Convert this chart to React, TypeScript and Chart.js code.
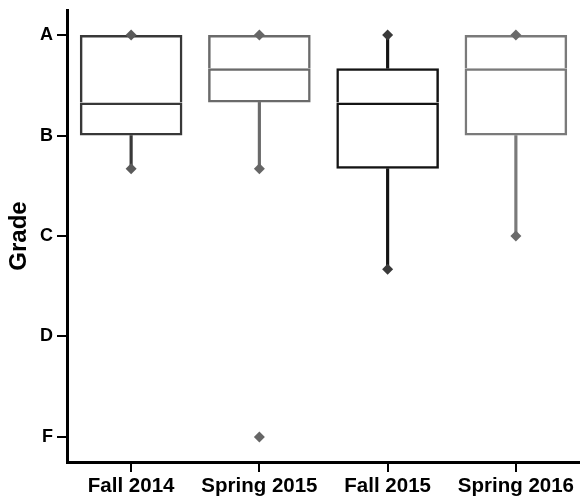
import React, { useEffect, useRef } from "react";
import { Chart, registerables } from "chart.js";

Chart.register(...registerables);

const categories = ["Fall 2014", "Spring 2015", "Fall 2015", "Spring 2016"];
const gradeLabels: Record<number, string> = { 0: "F", 1: "D", 2: "C", 3: "B", 4: "A" };
const gradeTicks = [0, 1, 2, 3, 4];

const whiskerLow = [2.67, 2.67, 1.67, 2.0];
const q1 = [3.0, 3.33, 2.67, 3.0];
const median = [3.33, 3.67, 3.33, 3.67];
const q3 = [4.0, 4.0, 3.67, 4.0];
const whiskerHigh = [4.0, 4.0, 4.0, 4.0];

// marker points: [category index, value]
const markerCats = [0, 0, 1, 1, 1, 2, 2, 3, 3];
const markerVals = [4.0, 2.67, 4.0, 2.67, 0.0, 4.0, 1.67, 4.0, 2.0];

const boxColors = ["#383838", "#6a6a6a", "#141414", "#7a7a7a"];
const markerColors = ["#5a5a5a", "#5a5a5a", "#666666", "#666666", "#666666", "#3a3a3a", "#3a3a3a", "#6a6a6a", "#6a6a6a"];

const FONT = "'Liberation Sans', Arial, Helvetica, sans-serif";

export default function App() {
  const ref = useRef<HTMLCanvasElement | null>(null);

  useEffect(() => {
    if (!ref.current) return;
    const chart = new Chart(ref.current, {
      type: "bar",
      data: {
        labels: categories,
        datasets: [
          {
            type: "bar",
            order: 3,
            data: categories.map((_, i) => [whiskerLow[i], q1[i]]),
            backgroundColor: boxColors,
            borderWidth: 0,
            barThickness: 2.5,
            grouped: false,
          } as any,
          {
            type: "bar",
            order: 3,
            data: categories.map((_, i) => [q3[i], whiskerHigh[i]]),
            backgroundColor: boxColors,
            borderWidth: 0,
            barThickness: 2.5,
            grouped: false,
          } as any,
          {
            type: "bar",
            order: 2,
            data: categories.map((_, i) => [q1[i], median[i]]),
            backgroundColor: "rgba(0,0,0,0)",
            borderColor: boxColors,
            borderWidth: 2.5,
            borderSkipped: false,
            barPercentage: 0.8,
            categoryPercentage: 1,
            grouped: false,
          } as any,
          {
            type: "bar",
            order: 2,
            data: categories.map((_, i) => [median[i], q3[i]]),
            backgroundColor: "rgba(0,0,0,0)",
            borderColor: boxColors,
            borderWidth: 2.5,
            borderSkipped: "bottom",
            barPercentage: 0.8,
            categoryPercentage: 1,
            grouped: false,
          } as any,
          {
            type: "line",
            order: 1,
            data: markerCats.map((c, i) => ({ x: categories[c], y: markerVals[i] })),
            showLine: false,
            pointStyle: "rectRot",
            pointRadius: 5.5,
            pointBorderWidth: 0,
            pointBackgroundColor: markerColors,
            pointBorderColor: markerColors,
            clip: false,
          } as any,
        ],
      },
      options: {
        animation: false,
        responsive: true,
        maintainAspectRatio: false,
        layout: { autoPadding: false, padding: { top: 10, right: 0, left: 0, bottom: 0 } },
        plugins: { legend: { display: false }, tooltip: { enabled: false } },
        scales: {
          x: {
            type: "category",
            offset: true,
            grid: {
              offset: false,
              drawOnChartArea: false,
              drawTicks: true,
              tickLength: 10,
              color: "#000",
              lineWidth: 2,
            },
            border: { display: true, color: "#000", width: 3 },
            ticks: {
              color: "#000",
              padding: 2,
              font: { family: FONT, size: 20.5, weight: "bold" },
              maxRotation: 0,
              autoSkip: false,
            },
            afterFit: (axis: any) => {
              axis.height = 40;
              axis.paddingLeft = 0;
              axis.paddingRight = 0;
            },
          },
          y: {
            type: "linear",
            min: -0.25,
            max: 4.25,
            afterBuildTicks: (axis: any) => {
              axis.ticks = gradeTicks.map((v) => ({ value: v }));
            },
            grid: {
              drawOnChartArea: false,
              drawTicks: true,
              tickLength: 10,
              color: "#000",
              lineWidth: 2,
            },
            border: { display: true, color: "#000", width: 3 },
            ticks: {
              color: "#000",
              padding: 4,
              font: { family: FONT, size: 18, weight: "bold" },
              callback: (v: any) => gradeLabels[Number(v)] ?? "",
            },
            title: {
              display: true,
              text: "Grade",
              color: "#000",
              font: { family: FONT, size: 24, weight: "bold" },
              padding: { top: 5, bottom: 0 },
            },
            afterFit: (axis: any) => {
              axis.width = 67;
              axis.paddingTop = 0;
              axis.paddingBottom = 0;
            },
          },
        },
      } as any,
    });
    return () => chart.destroy();
  }, []);

  return (
    <div style={{ position: "fixed", left: 0, top: 0, width: 580, height: 502, background: "#fff" }}>
      <canvas ref={ref} />
    </div>
  );
}
